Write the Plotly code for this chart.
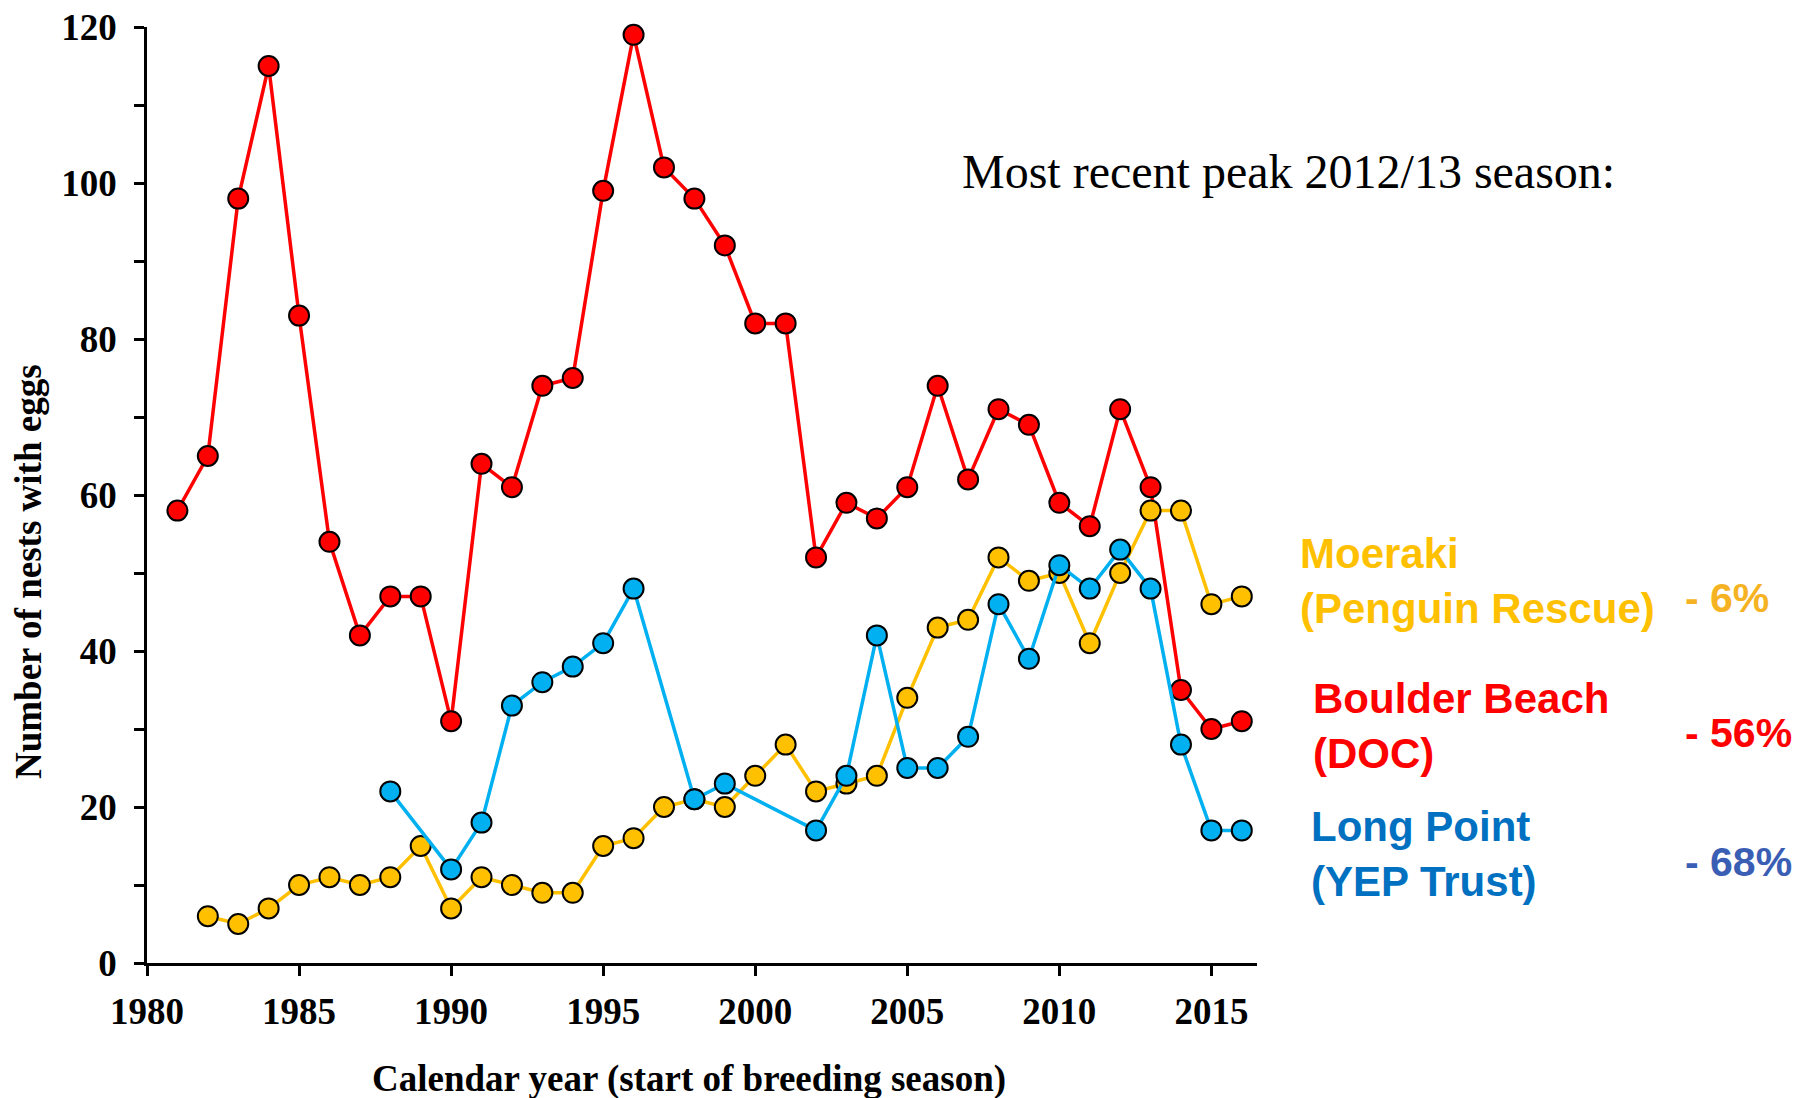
import plotly.graph_objects as go

# ---- data ----
boulder_years = list(range(1981, 2017))
boulder_vals = [58, 65, 98, 115, 83, 54, 42, 47, 47, 31, 64, 61, 74, 75, 99, 119, 102, 98, 92,
                82, 82, 52, 59, 57, 61, 74, 62, 71, 69, 59, 56, 71, 61, 35, 30, 31]

moeraki_years = list(range(1982, 2017))
moeraki_vals = [6, 5, 7, 10, 11, 10, 11, 15, 7, 11, 10, 9, 9, 15, 16, 20, 21, 20, 24, 28,
                22, 23, 24, 34, 43, 44, 52, 49, 50, 41, 50, 58, 58, 46, 47]

longpoint_years = [1988, 1990, 1991, 1992, 1993, 1994, 1995, 1996, 1998, 1999, 2002, 2003, 2004,
                   2005, 2006, 2007, 2008, 2009, 2010, 2011, 2012, 2013, 2014, 2015, 2016]
longpoint_vals = [22, 12, 18, 33, 36, 38, 41, 48, 21, 23, 17, 24, 42, 25, 25, 29, 46, 39, 51,
                  48, 53, 48, 28, 17, 17]

x_tick_vals = [1980, 1985, 1990, 1995, 2000, 2005, 2010, 2015]
y_tick_vals = [0, 20, 40, 60, 80, 100, 120]

# ---- geometry (screen pixels; page has an 8px body margin) ----
FW, FH = 1813, 1098
OFF = 8
L, R, T, B = 147 - OFF, 1257 - OFF, 27 - OFF, 963 - OFF
W, H = R - L, B - T


def px(x):
    return (x - OFF - L) / W


def py(y):
    return (B - (y - OFF)) / H


serif = "Liberation Serif, Times New Roman, serif"
sans = "Liberation Sans, Arial, sans-serif"

fig = go.Figure()

series = [
    (boulder_years, boulder_vals, "#FF0000", "Boulder Beach (DOC)"),
    (moeraki_years, moeraki_vals, "#FFC000", "Moeraki (Penguin Rescue)"),
    (longpoint_years, longpoint_vals, "#00B0F0", "Long Point (YEP Trust)"),
]
for xs, ys, col, name in series:
    fig.add_trace(go.Scatter(
        x=xs, y=ys, mode="lines+markers", name=name,
        line=dict(color=col, width=3.5),
        marker=dict(size=20, color=col, line=dict(color="black", width=2)),
        cliponaxis=False,
    ))

fig.update_layout(
    width=FW, height=FH,
    margin=dict(l=L, r=FW - R, t=T, b=FH - B, autoexpand=False),
    paper_bgcolor="white", plot_bgcolor="white",
    showlegend=False,
    xaxis=dict(
        range=[1980, 2016.5], tickvals=x_tick_vals, ticktext=[str(v) for v in x_tick_vals],
        showline=True, linecolor="black", linewidth=2.5, ticks="outside", ticklen=10,
        tickwidth=2.5, tickcolor="black", showgrid=False, zeroline=False,
        tickfont=dict(family=serif, size=37, color="black", weight="bold"),
        ticklabelstandoff=4, ticklabeloverflow="allow",
    ),
    yaxis=dict(
        range=[0, 120], tickvals=y_tick_vals,
        showline=True, linecolor="black", linewidth=2.5, ticks="outside", ticklen=10,
        tickwidth=2.5, tickcolor="black", showgrid=False, zeroline=False,
        tickfont=dict(family=serif, size=37, color="black", weight="bold"),
        minor=dict(dtick=10, ticks="outside", ticklen=10, tickwidth=2.5, tickcolor="black"),
        ticklabelstandoff=10, ticklabeloverflow="allow",
    ),
)

# axis titles
fig.add_annotation(
    text="Number of nests with eggs", xref="paper", yref="paper",
    x=px(29), y=py(572), showarrow=False, textangle=-90,
    font=dict(family=serif, size=37, color="black", weight="bold"),
    xanchor="center", yanchor="middle",
)
fig.add_annotation(
    text="Calendar year (start of breeding season)", xref="paper", yref="paper",
    x=px(689), y=py(1079), showarrow=False,
    font=dict(family=serif, size=37, color="black", weight="bold"),
    xanchor="center", yanchor="middle",
)

# header text
fig.add_annotation(
    text="Most recent peak 2012/13 season:", xref="paper", yref="paper",
    x=px(1288), y=py(171), showarrow=False,
    font=dict(family=serif, size=48, color="black"),
    xanchor="center", yanchor="middle",
)

labels = [
    ("Moeraki<br>(Penguin Rescue)", "#FFC000", 1298, 581, "- 6%", "#F5B324", 598),
    ("Boulder Beach<br>(DOC)", "#FF0000", 1311, 726, "- 56%", "#FF0000", 733),
    ("Long Point<br>(YEP Trust)", "#0070C0", 1309, 854, "- 68%", "#3B5EB5", 862),
]
for txt, col, lx, ly, pct, pcol, pyy in labels:
    fig.add_annotation(
        text=txt, xref="paper", yref="paper", x=px(lx), y=py(ly), showarrow=False,
        font=dict(family=sans, size=42, color=col, weight="bold"),
        xanchor="left", yanchor="middle", align="left",
    )
    fig.add_annotation(
        text=pct, xref="paper", yref="paper", x=px(1683), y=py(pyy), showarrow=False,
        font=dict(family=sans, size=41, color=pcol, weight="bold"),
        xanchor="left", yanchor="middle", align="left",
    )

fig.write_html("out.html")
